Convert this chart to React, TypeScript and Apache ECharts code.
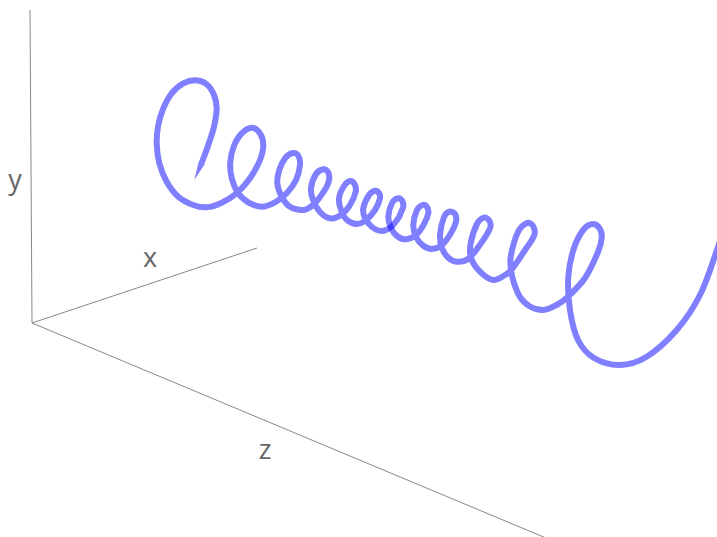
import React, { useEffect, useRef } from "react";
import * as echarts from "echarts";

const WIDTH = 717;
const HEIGHT = 537;

const axisX = [[32, 323], [257, 248]];
const axisY = [[32, 323], [30, 10]];
const axisZ = [[32, 323], [546, 538]];

const axisNames = [
  { name: "x", at: [150, 256] },
  { name: "y", at: [15, 178] },
  { name: "z", at: [265, 448] },
];

const helixTip = [[194.3, 180], [198.7, 161.8], [204.7, 164.2]];

const helixFirst = [
  [201.7, 163], [208.3, 145], [214, 126.7], [216.7, 108.3], [214, 95], [206.7, 84.3], [196, 80.3], [183.3, 83.3],
  [171.7, 93.3], [163.3, 108.3], [158.3, 125], [156.7, 143.3], [159.3, 163.3], [166.7, 181.7], [178.3, 196.7],
  [193.3, 205], [206.7, 207.3], [221.7, 202.7], [236.7, 193.3], [250, 178.3], [260, 160], [263.3, 145], [260, 133.3],
  [251.7, 127.7], [241.7, 133.3], [234.3, 145], [230.3, 161.7], [231.7, 178.3], [238.3, 193.3], [248.3, 202.3],
  [261.7, 206.7], [275, 202.3], [286.7, 193.3], [296, 180], [300, 165], [298.3, 155.7], [292.7, 153], [285, 158.3],
  [279.3, 170], [277.3, 183.3], [281.7, 196.7], [290, 206.7], [303.3, 210], [313, 205], [320, 197], [327, 186],
  [329.3, 178], [328, 172], [323.3, 169.3], [316, 174], [311, 188.3], [313, 200], [320, 212], [330, 218.3], [341, 215],
  [350, 205], [355.7, 191.7], [354.5, 184], [350, 181], [344, 186], [339, 198.3], [341, 210], [347, 220], [357, 224],
  [366, 220], [375, 210], [380, 198.3], [379, 193], [375, 190.7], [369, 195], [363.3, 208.3], [365, 218], [372, 227],
  [381.7, 231], [391, 227], [399, 217], [401, 212],
];

const helixSecond = [
  [401, 212], [403.3, 206.7], [402, 200.5], [397.7, 198.3], [392, 203], [388.3, 216.7], [391, 228], [397, 236],
  [406, 239.3], [416, 235], [424, 224], [428.3, 213.3], [427, 207], [422.7, 205], [417, 210], [413.3, 225], [416, 237],
  [423, 245.5], [431.7, 249], [442, 245], [451, 233], [456, 221.7], [455, 214], [449.3, 211.7], [444, 217], [440, 235],
  [442, 248], [448, 257.5], [456.7, 261.7], [468, 259], [479, 246], [490, 228.3], [489.5, 221], [484, 217.7], [477, 224],
  [470.7, 243.3], [471, 258], [480, 271.7], [493, 280], [505, 275], [512, 269], [525, 250], [534.3, 235], [533, 226],
  [527, 223], [518, 232], [510.7, 256.7], [511, 270], [514, 283], [520, 297], [530, 306.5], [543.3, 310], [556.7, 305],
  [568, 296.7], [585, 278], [598, 252], [601.7, 238.3], [600, 229], [593.3, 224], [584, 229], [574, 248], [568.3, 276.7],
  [570, 310], [578, 340], [594, 358], [620, 365], [646.7, 356.7], [676.7, 330], [700, 295], [717, 250], [725, 225],
];

const HELIX_COLOR = "rgba(0,0,255,0.5)";

const axisSeries = (data: number[][]) => ({
  type: "line",
  data,
  symbol: "none",
  silent: true,
  lineStyle: { color: "#888888", width: 1 },
});

const smoothPath = (pts: number[][]) => {
  const tangent = (i: number) => {
    const a = pts[Math.max(i - 1, 0)];
    const b = pts[Math.min(i + 1, pts.length - 1)];
    const dx = b[0] - a[0];
    const dy = b[1] - a[1];
    const len = Math.hypot(dx, dy) || 1;
    return [dx / len, dy / len];
  };
  let d = `M${pts[0][0]} ${pts[0][1]}`;
  for (let i = 0; i < pts.length - 1; i++) {
    const p = pts[i];
    const q = pts[i + 1];
    const seg = Math.hypot(q[0] - p[0], q[1] - p[1]) / 3;
    const t0 = tangent(i);
    const t1 = tangent(i + 1);
    d += `C${p[0] + t0[0] * seg} ${p[1] + t0[1] * seg} ${q[0] - t1[0] * seg} ${q[1] - t1[1] * seg} ${q[0]} ${q[1]}`;
  }
  return d;
};

const helixSeries = (data: number[][]) => ({
  type: "custom",
  data,
  silent: true,
  clip: true,
  renderItem: (params: any, api: any) => {
    if (params.dataIndex !== 0) return null;
    return {
      type: "path",
      shape: { pathData: smoothPath(data.map((p) => api.coord(p))) },
      style: { fill: "none", stroke: HELIX_COLOR, lineWidth: 6, lineCap: "butt", lineJoin: "round" },
    };
  },
});

export default function App() {
  const ref = useRef<HTMLDivElement>(null);
  useEffect(() => {
    document.body.style.margin = "0";
    const chart = echarts.init(ref.current!, undefined, { renderer: "svg" });
    chart.setOption({
      animation: false,
      backgroundColor: "#ffffff",
      grid: { left: 0, right: 0, top: 0, bottom: 0 },
      xAxis: { type: "value", min: 0, max: WIDTH, show: false },
      yAxis: { type: "value", min: 0, max: HEIGHT, inverse: true, show: false },
      series: [
        axisSeries(axisX),
        axisSeries(axisY),
        axisSeries(axisZ),
        {
          type: "custom",
          data: helixTip,
          silent: true,
          renderItem: (params: any, api: any) => {
            if (params.dataIndex !== 0) return null;
            return {
              type: "polygon",
              shape: { points: helixTip.map((p) => api.coord(p)) },
              style: { fill: HELIX_COLOR },
            };
          },
        },
        helixSeries(helixFirst),
        helixSeries(helixSecond),
        {
          type: "scatter",
          symbolSize: 0,
          silent: true,
          itemStyle: { opacity: 1 },
          data: axisNames.map((a) => ({
            value: a.at,
            label: {
              show: true,
              formatter: a.name,
              position: "inside",
              fontFamily: "Open Sans",
              fontSize: 27,
              color: "#666666",
              opacity: 1,
            },
          })),
        },
      ],
    });
    return () => chart.dispose();
  }, []);
  return <div ref={ref} style={{ width: WIDTH, height: HEIGHT }} />;
}
